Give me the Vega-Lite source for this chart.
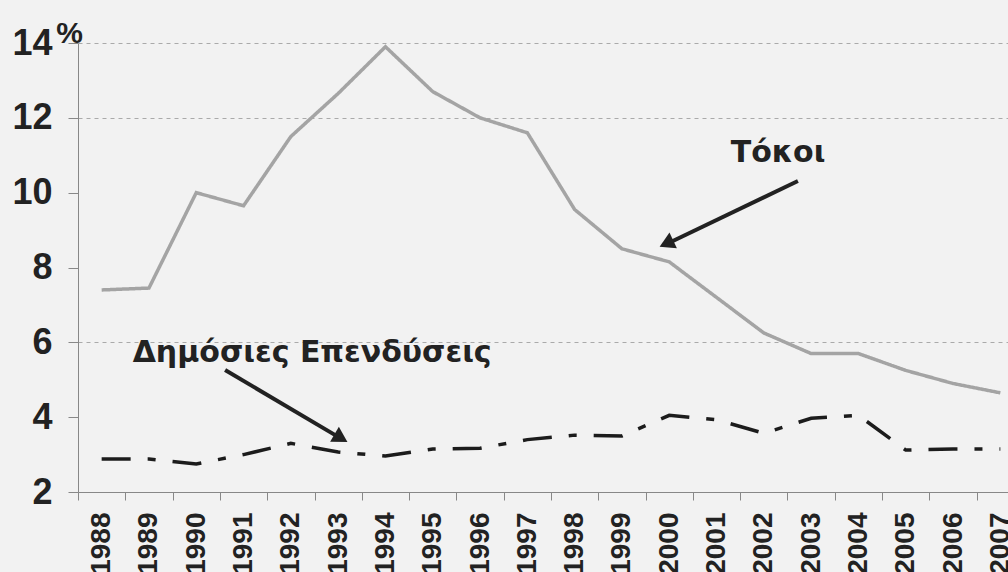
{
  "$schema": "https://vega.github.io/schema/vega-lite/v6.json",
  "width": 946,
  "height": 449,
  "autosize": {"type": "none"},
  "padding": {"left": 78, "top": 43, "right": 0, "bottom": 80},
  "background": "#f2f2f2",
  "config": {"view": {"stroke": null}, "font": "Liberation Sans"},
  "datasets": {
    "series": [
      {"year": "1988", "series": "Τόκοι", "value": 7.4},
      {"year": "1989", "series": "Τόκοι", "value": 7.45},
      {"year": "1990", "series": "Τόκοι", "value": 10.0},
      {"year": "1991", "series": "Τόκοι", "value": 9.65},
      {"year": "1992", "series": "Τόκοι", "value": 11.5},
      {"year": "1993", "series": "Τόκοι", "value": 12.65},
      {"year": "1994", "series": "Τόκοι", "value": 13.9},
      {"year": "1995", "series": "Τόκοι", "value": 12.7},
      {"year": "1996", "series": "Τόκοι", "value": 12.0},
      {"year": "1997", "series": "Τόκοι", "value": 11.6},
      {"year": "1998", "series": "Τόκοι", "value": 9.55},
      {"year": "1999", "series": "Τόκοι", "value": 8.5},
      {"year": "2000", "series": "Τόκοι", "value": 8.15},
      {"year": "2001", "series": "Τόκοι", "value": 7.2},
      {"year": "2002", "series": "Τόκοι", "value": 6.25},
      {"year": "2003", "series": "Τόκοι", "value": 5.7},
      {"year": "2004", "series": "Τόκοι", "value": 5.7},
      {"year": "2005", "series": "Τόκοι", "value": 5.25},
      {"year": "2006", "series": "Τόκοι", "value": 4.9},
      {"year": "2007", "series": "Τόκοι", "value": 4.65},
      {"year": "1988", "series": "Δημόσιες Επενδύσεις", "value": 2.88},
      {"year": "1989", "series": "Δημόσιες Επενδύσεις", "value": 2.88},
      {"year": "1990", "series": "Δημόσιες Επενδύσεις", "value": 2.75},
      {"year": "1991", "series": "Δημόσιες Επενδύσεις", "value": 3.0},
      {"year": "1992", "series": "Δημόσιες Επενδύσεις", "value": 3.3},
      {"year": "1993", "series": "Δημόσιες Επενδύσεις", "value": 3.07},
      {"year": "1994", "series": "Δημόσιες Επενδύσεις", "value": 2.96},
      {"year": "1995", "series": "Δημόσιες Επενδύσεις", "value": 3.15},
      {"year": "1996", "series": "Δημόσιες Επενδύσεις", "value": 3.17},
      {"year": "1997", "series": "Δημόσιες Επενδύσεις", "value": 3.4},
      {"year": "1998", "series": "Δημόσιες Επενδύσεις", "value": 3.52},
      {"year": "1999", "series": "Δημόσιες Επενδύσεις", "value": 3.5},
      {"year": "2000", "series": "Δημόσιες Επενδύσεις", "value": 4.05},
      {"year": "2001", "series": "Δημόσιες Επενδύσεις", "value": 3.93},
      {"year": "2002", "series": "Δημόσιες Επενδύσεις", "value": 3.57},
      {"year": "2003", "series": "Δημόσιες Επενδύσεις", "value": 3.97},
      {"year": "2004", "series": "Δημόσιες Επενδύσεις", "value": 4.05},
      {"year": "2005", "series": "Δημόσιες Επενδύσεις", "value": 3.12},
      {"year": "2006", "series": "Δημόσιες Επενδύσεις", "value": 3.15},
      {"year": "2007", "series": "Δημόσιες Επενδύσεις", "value": 3.15}
    ],
    "notes": [
      {"label": "Τόκοι", "tx": 2002.3, "ty": 10.82, "ax": 2002.72, "ay": 10.31, "bx": 1999.9, "by": 8.6, "hx": 1999.94, "hy": 8.64},
      {"label": "Δημόσιες Επενδύσεις", "tx": 1992.45, "ty": 5.47, "ax": 1990.61, "ay": 5.26, "bx": 1993.1, "by": 3.4, "hx": 1993.06, "hy": 3.44}
    ]
  },
  "layer": [
    {
      "data": {"name": "series"},
      "mark": {"type": "line", "strokeWidth": 3.5, "strokeCap": "butt"},
      "encoding": {
        "x": {
          "field": "year", "type": "ordinal",
          "scale": {"type": "band", "paddingInner": 0, "paddingOuter": 0},
          "axis": {
            "title": null, "tickBand": "extent", "labelAngle": -90,
            "labelFontSize": 28, "labelFontWeight": "bold", "labelColor": "#222",
            "labelPadding": 12, "tickSize": 8, "tickColor": "#888",
            "domainColor": "#888", "grid": false
          }
        },
        "y": {
          "field": "value", "type": "quantitative",
          "scale": {"domain": [2, 14], "nice": false, "zero": false},
          "axis": {
            "values": [2, 4, 6, 8, 10, 12, 14],
            "title": "%", "titleAngle": 0, "titleX": -9, "titleY": -1,
            "titleAlign": "center", "titleBaseline": "alphabetic",
            "titleFontSize": 30, "titleFontWeight": "bold", "titleColor": "#222",
            "labelFontSize": 36, "labelFontWeight": "bold", "labelColor": "#222",
            "labelPadding": 16, "tickSize": 10, "tickColor": "#888",
            "domainColor": "#888",
            "grid": true, "gridDash": [4, 4], "gridColor": "#aaaaaa",
            "gridOpacity": {"condition": {"test": "datum.value == 6 || datum.value >= 12", "value": 1}, "value": 0}
          }
        },
        "color": {
          "field": "series", "type": "nominal",
          "scale": {"domain": ["Τόκοι", "Δημόσιες Επενδύσεις"], "range": ["#a4a4a4", "#1c1c1c"]},
          "legend": null
        },
        "strokeDash": {
          "field": "series", "type": "nominal",
          "scale": {"domain": ["Τόκοι", "Δημόσιες Επενδύσεις"], "range": [[1, 0], [29, 17, 8, 17]]},
          "legend": null
        }
      }
    },
    {
      "data": {"name": "notes"},
      "mark": {"type": "rule", "strokeWidth": 4, "color": "#222"},
      "encoding": {
        "x": {"field": "ax", "type": "quantitative", "scale": {"domain": [1987.5, 2007.5], "nice": false, "zero": false}, "axis": null},
        "y": {"field": "ay", "type": "quantitative"},
        "x2": {"field": "bx"},
        "y2": {"field": "by"}
      }
    },
    {
      "data": {"name": "notes"},
      "transform": [{"filter": "datum.label == 'Τόκοι'"}],
      "mark": {"type": "point", "shape": "triangle-up", "filled": true, "size": 300, "angle": 244.6, "color": "#222", "opacity": 1},
      "encoding": {
        "x": {"field": "hx", "type": "quantitative", "scale": {"domain": [1987.5, 2007.5], "nice": false, "zero": false}, "axis": null},
        "y": {"field": "hy", "type": "quantitative"}
      }
    },
    {
      "data": {"name": "notes"},
      "transform": [{"filter": "datum.label != 'Τόκοι'"}],
      "mark": {"type": "point", "shape": "triangle-up", "filled": true, "size": 300, "angle": 120.3, "color": "#222", "opacity": 1},
      "encoding": {
        "x": {"field": "hx", "type": "quantitative", "scale": {"domain": [1987.5, 2007.5], "nice": false, "zero": false}, "axis": null},
        "y": {"field": "hy", "type": "quantitative"}
      }
    },
    {
      "data": {"name": "notes"},
      "mark": {"type": "text", "font": "DejaVu Sans", "fontWeight": "bold", "fontSize": 30, "align": "center", "baseline": "alphabetic", "color": "#222"},
      "encoding": {
        "x": {"field": "tx", "type": "quantitative", "scale": {"domain": [1987.5, 2007.5], "nice": false, "zero": false}, "axis": null},
        "y": {"field": "ty", "type": "quantitative"},
        "text": {"field": "label"}
      }
    }
  ],
  "resolve": {"scale": {"x": "independent"}}
}
